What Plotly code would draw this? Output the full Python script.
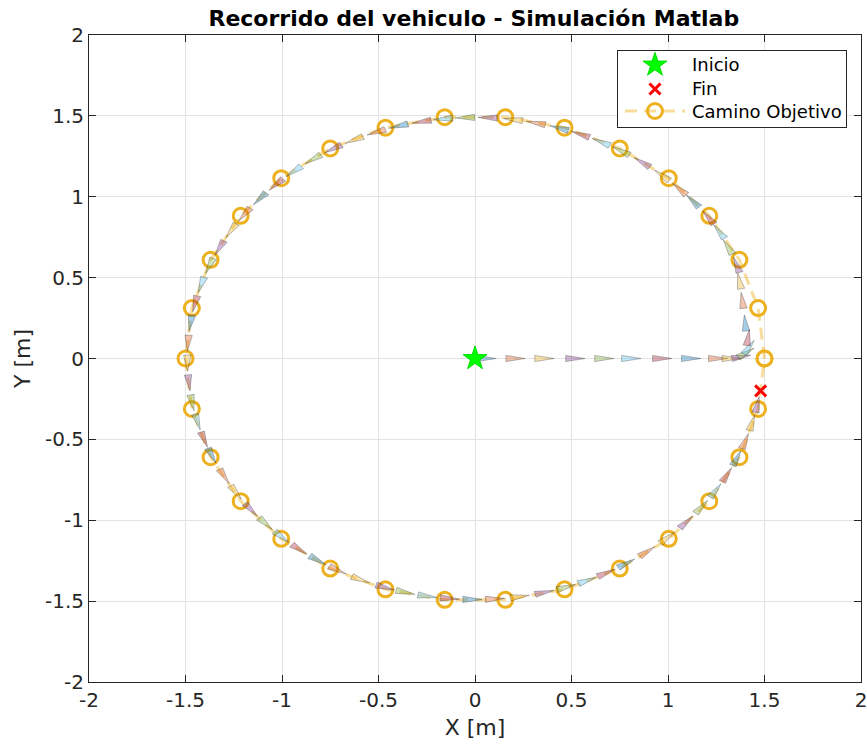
import math
import plotly.graph_objects as go

# Target path waypoints (closed loop, radius 1.5 m)
wp_x = [1.500, 1.467, 1.370, 1.214, 1.004, 0.750, 0.464, 0.157, -0.157, -0.464,
        -0.750, -1.004, -1.214, -1.370, -1.467, -1.500, -1.467, -1.370, -1.214, -1.004,
        -0.750, -0.464, -0.157, 0.157, 0.464, 0.750, 1.004, 1.214, 1.370, 1.467, 1.500]
wp_y = [0.000, 0.312, 0.610, 0.882, 1.115, 1.299, 1.427, 1.492, 1.492, 1.427,
        1.299, 1.115, 0.882, 0.610, 0.312, 0.000, -0.312, -0.610, -0.882, -1.115,
        -1.299, -1.427, -1.492, -1.492, -1.427, -1.299, -1.115, -0.882, -0.610, -0.312, 0.000]

# Logged vehicle poses: position [m] and heading [deg]
veh_x = [0.06, 0.21, 0.36, 0.52, 0.67, 0.81, 0.97, 1.12, 1.26, 1.33,
         1.38, 1.405, 1.42, 1.415, 1.40, 1.385, 1.37, 1.355, 1.31, 1.265,
         1.209, 1.128, 1.059, 0.968, 0.865, 0.756, 0.653, 0.546, 0.436, 0.315,
         0.197, 0.065, -0.052, -0.166, -0.277, -0.396, -0.512, -0.627, -0.736, -0.840,
         -0.940, -1.031, -1.116, -1.195, -1.264, -1.324, -1.376, -1.419, -1.451, -1.474,
         -1.487, -1.490, -1.482, -1.465, -1.437, -1.403, -1.363, -1.299, -1.238, -1.160,
         -1.084, -1.001, -0.909, -0.814, -0.711, -0.592, -0.465, -0.360, -0.246, -0.130,
         -0.013, 0.104, 0.233, 0.360, 0.473, 0.582, 0.681, 0.785, 0.893, 0.997,
         1.095, 1.174, 1.247, 1.306, 1.357, 1.400, 1.436, 1.463]
veh_y = [0.0, 0.0, 0.0, 0.0, 0.0, 0.0, 0.0, 0.0, 0.0, 0.0,
         0.01, 0.035, 0.07, 0.13, 0.22, 0.36, 0.48, 0.58, 0.69, 0.785,
         0.872, 0.974, 1.048, 1.133, 1.213, 1.284, 1.339, 1.386, 1.425, 1.456,
         1.477, 1.489, 1.489, 1.481, 1.464, 1.437, 1.399, 1.351, 1.296, 1.231,
         1.156, 1.075, 0.987, 0.890, 0.790, 0.683, 0.573, 0.455, 0.338, 0.218,
         0.094, -0.029, -0.151, -0.274, -0.393, -0.502, -0.601, -0.729, -0.829, -0.936,
         -1.022, -1.104, -1.181, -1.248, -1.309, -1.368, -1.416, -1.446, -1.470, -1.484,
         -1.490, -1.486, -1.472, -1.446, -1.413, -1.372, -1.325, -1.266, -1.193, -1.107,
         -1.011, -0.917, -0.816, -0.718, -0.616, -0.510, -0.396, -0.284]
veh_h = [0, 0, 0, 0, 0, 0, 0, 0, 0, 0,
         12, 35, 58, 82, 95, 97, 100, 108, 118, 124,
         125.8, 130.8, 134.7, 139.5, 144.5, 149.5, 154.0, 158.5, 163.0, 167.8,
         172.4, 177.5, 182.0, 186.4, 190.7, 195.4, 200.1, 204.9, 209.6, 214.3,
         219.1, 223.8, 228.5, 233.3, 238.0, 242.7, 247.4, 252.2, 256.9, 261.6,
         266.4, 271.1, 275.8, 280.6, 285.3, 289.7, 293.8, 299.3, 303.8, 308.9,
         313.3, 317.8, 322.4, 326.9, 331.5, 336.6, 341.8, 346.0, 350.5, 355.0,
         359.5, 4.0, 9.0, 14.0, 18.5, 23.0, 27.2, 31.8, 36.8, 42.0,
         47.3, 52.0, 56.8, 61.2, 65.6, 70.0, 74.6, 79.0]

start_x, start_y = [0.0], [0.0]
end_x, end_y = [1.48], [-0.20]

tick_vals = [-2, -1.5, -1, -0.5, 0, 0.5, 1, 1.5, 2]
tick_text = ["-2", "-1.5", "-1", "-0.5", "0", "0.5", "1", "1.5", "2"]

legend_labels = ["Inicio", "Fin", "Camino Objetivo"]

# MATLAB default color order, used cyclically for the vehicle patches
color_order = [(0, 114, 189), (217, 83, 25), (237, 177, 32), (126, 47, 142),
               (119, 172, 48), (77, 190, 238), (162, 20, 47)]

FONT = "DejaVu Sans, Arial, sans-serif"
TXT = "#262626"
PATH_LINE = dict(color="rgba(237,177,32,0.45)", width=3, dash="12px,7px")
PATH_MARK = dict(symbol="circle-open", size=15, color="#EDB120", line=dict(width=3))
START_MARK = dict(symbol="star", size=18, color="#00FF00", line=dict(color="#00DD00", width=1))
END_MARK = dict(symbol="x-thin", size=11, color="#FF0000", line=dict(color="#FF0000", width=3))

# vehicle outline (in data units): half length and half base width
half_len = 0.05
half_w = 0.019

fig = go.Figure()

# Target path
fig.add_trace(go.Scatter(
    x=wp_x, y=wp_y, mode="lines+markers", name="Camino Objetivo",
    line=PATH_LINE, marker=PATH_MARK, showlegend=False,
))

# Vehicle triangles, one trace per color
groups = {i: ([], []) for i in range(len(color_order))}
for k, (px, py, hd) in enumerate(zip(veh_x, veh_y, veh_h)):
    a = math.radians(hd)
    dx, dy = math.cos(a), math.sin(a)
    nx, ny = -dy, dx
    tip = (px + half_len * dx, py + half_len * dy)
    b1 = (px - half_len * dx + half_w * nx, py - half_len * dy + half_w * ny)
    b2 = (px - half_len * dx - half_w * nx, py - half_len * dy - half_w * ny)
    gx, gy = groups[k % len(color_order)]
    gx += [b1[0], tip[0], b2[0], b1[0], None]
    gy += [b1[1], tip[1], b2[1], b1[1], None]

for i, (gx, gy) in groups.items():
    r, g, b = color_order[i]
    fig.add_trace(go.Scatter(
        x=gx, y=gy, mode="lines", fill="toself",
        fillcolor=f"rgba({r},{g},{b},0.35)",
        line=dict(color="rgba(50,50,50,0.55)", width=0.6),
        showlegend=False, hoverinfo="skip",
    ))

fig.add_trace(go.Scatter(x=start_x, y=start_y, mode="markers", name="Inicio",
                         marker=START_MARK, showlegend=False))
fig.add_trace(go.Scatter(x=end_x, y=end_y, mode="markers", name="Fin",
                         marker=END_MARK, showlegend=False))

# Legend box drawn on its own small axes (pixel-like units, y pointing down)
row_y = [14, 38, 60]
sym_x = 37
fig.add_trace(go.Scatter(x=[sym_x], y=[row_y[0]], mode="markers", marker=START_MARK,
                         xaxis="x2", yaxis="y2", showlegend=False, hoverinfo="skip"))
fig.add_trace(go.Scatter(x=[sym_x], y=[row_y[1]], mode="markers", marker=END_MARK,
                         xaxis="x2", yaxis="y2", showlegend=False, hoverinfo="skip"))
fig.add_trace(go.Scatter(x=[7, 67], y=[row_y[2], row_y[2]], mode="lines", line=PATH_LINE,
                         xaxis="x2", yaxis="y2", showlegend=False, hoverinfo="skip"))
fig.add_trace(go.Scatter(x=[sym_x], y=[row_y[2]], mode="markers", marker=PATH_MARK,
                         xaxis="x2", yaxis="y2", showlegend=False, hoverinfo="skip"))
for label, yy in zip(legend_labels, row_y):
    fig.add_annotation(x=72, y=yy, xref="x2", yref="y2", text=label, showarrow=False,
                       xanchor="left", yanchor="middle",
                       font=dict(family=FONT, size=18, color="black"))

axis_common = dict(
    tickvals=tick_vals, ticktext=tick_text, range=[-2, 2],
    showgrid=True, gridcolor="#E3E3E3", gridwidth=1, zeroline=False,
    showline=True, linecolor=TXT, linewidth=1, mirror="ticks",
    ticks="inside", ticklen=7, tickcolor=TXT, tickwidth=1,
    tickfont=dict(family=FONT, size=20, color=TXT),
    ticklabeloverflow="allow", automargin=False,
)
legend_axis = dict(showgrid=False, zeroline=False, showticklabels=False, ticks="",
                   showline=True, linecolor=TXT, linewidth=1, mirror=True,
                   fixedrange=True, automargin=False)

fig.update_layout(
    width=867, height=745,
    margin=dict(l=89, r=6, t=35, b=63, autoexpand=False),
    paper_bgcolor="white", plot_bgcolor="white",
    title=dict(text="<b>Recorrido del vehiculo - Simulación Matlab</b>",
               x=0.5465, xanchor="center", y=1 - 18 / 745, yanchor="middle",
               font=dict(family=FONT, size=22, color="black"), automargin=False),
    xaxis=dict(axis_common, domain=[0, 1],
               title=dict(text="X [m]", standoff=8,
                          font=dict(family=FONT, size=22, color=TXT))),
    yaxis=dict(axis_common, domain=[0, 1],
               title=dict(text="Y [m]", standoff=8,
                          font=dict(family=FONT, size=22, color=TXT))),
    xaxis2=dict(legend_axis, domain=[0.6852, 0.9806], range=[0, 228], anchor="y2"),
    yaxis2=dict(legend_axis, domain=[0.8578, 0.9753], range=[76, 0], anchor="x2"),
    showlegend=False,
)

fig.write_html("out.html")
